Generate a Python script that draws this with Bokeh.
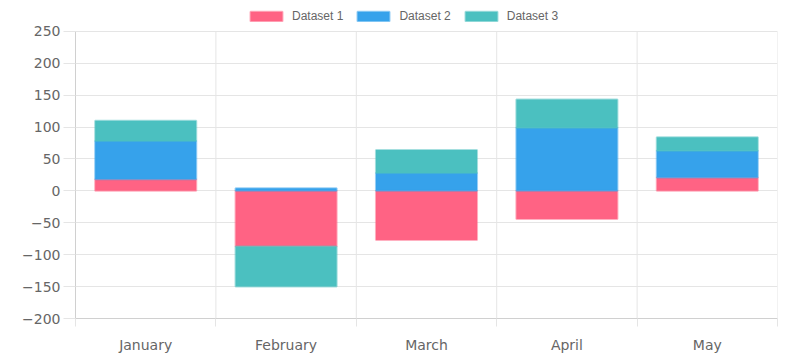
import numpy as np
from bokeh.plotting import figure
from bokeh.models import (Range1d, FixedTicker, Legend, LegendItem, ColumnDataSource)
from bokeh.embed import file_html
from bokeh.resources import INLINE

categories = ["January", "February", "March", "April", "May"]
series_names = ["Dataset 1", "Dataset 2", "Dataset 3"]
dataset1 = [18, -87, -77, -44, 21]
dataset2 = [60, 4, 28, 99, 42]
dataset3 = [32, -63, 36, 44, 21]
y_ticks = [-200, -150, -100, -50, 0, 50, 100, 150, 200, 250]
colors = ["#ff6384", "#36a2eb", "#4bc0c0"]

n = len(categories)
centers = [i + 0.5 for i in range(n)]
bounds = [float(i) for i in range(n + 1)]
y_min, y_max = y_ticks[0], y_ticks[-1]

# frame reaches the top of the canvas so the legend can sit above the 250 line
frame_h = 320
px_per_unit = 289 / (y_max - y_min)
y_top = y_min + frame_h / px_per_unit

p = figure(x_range=Range1d(0, n), y_range=Range1d(y_min, y_top), width=790, height=355,
           output_backend="svg", toolbar_location=None,
           min_border_left=75, min_border_right=13, min_border_top=0, min_border_bottom=35)
p.outline_line_color = None
p.background_fill_color = "white"

# vertical grid lines between categories, limited to the value range
p.segment(x0=bounds, y0=[y_min] * len(bounds), x1=bounds, y1=[y_max] * len(bounds),
          line_color="#e5e5e5", line_width=1)

# stacking: positives and negatives separately (as Chart.js does)
pos = np.zeros(n)
neg = np.zeros(n)
renderers = []
for name, vals, col in zip(series_names, [dataset1, dataset2, dataset3], colors):
    v = np.array(vals, dtype=float)
    bottom = np.where(v >= 0, pos, neg)
    top = bottom + v
    pos = np.where(v >= 0, top, pos)
    neg = np.where(v < 0, top, neg)
    src = ColumnDataSource(dict(x=centers, cat=categories, bottom=bottom, top=top))
    r = p.vbar(x="x", bottom="bottom", top="top", width=0.72, source=src,
               fill_color=col, line_color=col, line_alpha=0.5, line_width=2)
    renderers.append(r)

# y axis
yax = p.yaxis[0]
yax.ticker = FixedTicker(ticks=y_ticks)
yax.bounds = (y_min, y_max)
yax.axis_line_color = "#d0d0d0"
yax.major_tick_line_color = "#e5e5e5"
yax.major_tick_out = 12
yax.major_tick_in = 0
yax.minor_tick_line_color = None
yax.major_label_standoff = 3
yax.major_label_text_font = "DejaVu Sans"
yax.major_label_text_font_size = "14px"
yax.major_label_text_color = "#666666"
p.ygrid.ticker = FixedTicker(ticks=y_ticks)
p.ygrid.grid_line_color = "#e5e5e5"

# x axis: labels at category centres, small ticks between categories
xticker = FixedTicker(ticks=centers, minor_ticks=bounds)
xax = p.xaxis[0]
xax.ticker = xticker
xax.major_label_overrides = {c: lab for c, lab in zip(centers, categories)}
xax.axis_line_color = "#d0d0d0"
xax.major_tick_line_color = None
xax.major_tick_out = 0
xax.major_tick_in = 0
xax.minor_tick_line_color = "#e5e5e5"
xax.minor_tick_out = 8
xax.minor_tick_in = 0
xax.major_label_standoff = 10
xax.major_label_text_font = "DejaVu Sans"
xax.major_label_text_font_size = "14px"
xax.major_label_text_color = "#666666"
p.xgrid.visible = False

legend = Legend(items=[LegendItem(label=nm, renderers=[r]) for nm, r in zip(series_names, renderers)],
                orientation="horizontal", location=(171, 295),
                glyph_width=40, glyph_height=12, label_standoff=6, spacing=10,
                padding=0, margin=0, label_height=12,
                label_text_font="Liberation Sans", label_text_font_size="12px",
                label_text_color="#666666", border_line_color=None,
                background_fill_alpha=0)
p.add_layout(legend)

open("out.html", "w").write(file_html(p, INLINE))
